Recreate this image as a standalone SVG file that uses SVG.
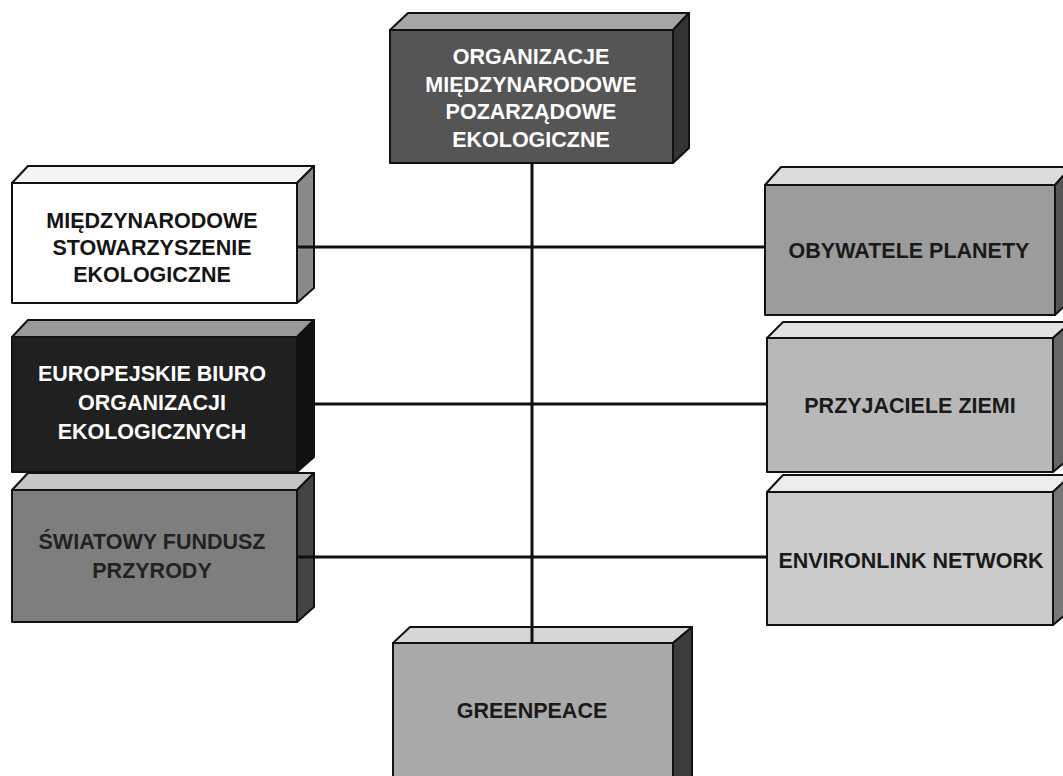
<svg xmlns="http://www.w3.org/2000/svg" width="1063" height="776" viewBox="0 0 1063 776">
<style>
.o{stroke:#111;stroke-width:2;stroke-linejoin:round}
.t{font-family:"Liberation Sans",Arial,sans-serif;font-weight:bold;font-size:21.5px;text-anchor:middle}
.w{fill:#fff}.k{fill:#151515}
.c{stroke:#111;stroke-width:3;fill:none}
</style>
<rect width="1063" height="776" fill="#fff"/>
<g id="top">
<polygon class="o" points="390,30 408,13 689,13 673,30" fill="#a6a6a6"/>
<polygon class="o" points="673,30 689,13 689,148 673,163" fill="#333"/>
<rect class="o" x="390" y="30" width="283" height="133" fill="#555"/>
<text class="t w" x="531" y="64">ORGANIZACJE</text>
<text class="t w" x="531" y="92">MIĘDZYNARODOWE</text>
<text class="t w" x="531" y="119">POZARZĄDOWE</text>
<text class="t w" x="531" y="147">EKOLOGICZNE</text>
</g>
<g id="l1">
<polygon class="o" points="12,183 28,166 314,166 297,183" fill="#f4f4f4"/>
<polygon class="o" points="297,183 314,166 314,288 297,303" fill="#8a8a8a"/>
<rect class="o" x="12" y="183" width="285" height="120" fill="#fff"/>
<text class="t k" x="152" y="228">MIĘDZYNARODOWE</text>
<text class="t k" x="152" y="255">STOWARZYSZENIE</text>
<text class="t k" x="152" y="282">EKOLOGICZNE</text>
</g>
<g id="l2">
<polygon class="o" points="12,337 28,320 314,320 297,337" fill="#9a9a9a"/>
<polygon class="o" points="297,337 314,320 314,457 297,472" fill="#111"/>
<rect class="o" x="12" y="337" width="285" height="135" fill="#202020"/>
<text class="t w" x="152" y="381">EUROPEJSKIE BIURO</text>
<text class="t w" x="152" y="410">ORGANIZACJI</text>
<text class="t w" x="152" y="439">EKOLOGICZNYCH</text>
</g>
<g id="l3">
<polygon class="o" points="12,490 28,473 314,473 297,490" fill="#c6c6c6"/>
<polygon class="o" points="297,490 314,473 314,607 297,622" fill="#444"/>
<rect class="o" x="12" y="490" width="285" height="132" fill="#7e7e7e"/>
<text class="t" x="152" y="549" fill="#222">ŚWIATOWY FUNDUSZ</text>
<text class="t" x="152" y="578" fill="#222">PRZYRODY</text>
</g>
<g id="r1">
<polygon class="o" points="765,185 781,167 1071,167 1055,185" fill="#dcdcdc"/>
<polygon class="o" points="1055,185 1071,167 1071,300 1055,315" fill="#555"/>
<rect class="o" x="765" y="185" width="290" height="130" fill="#9c9c9c"/>
<text class="t" x="909" y="258" fill="#1a1a1a">OBYWATELE PLANETY</text>
</g>
<g id="r2">
<polygon class="o" points="767,338 783,322 1071,322 1053,338" fill="#e2e2e2"/>
<polygon class="o" points="1053,338 1071,322 1071,457 1053,472" fill="#666"/>
<rect class="o" x="767" y="338" width="286" height="134" fill="#b8b8b8"/>
<text class="t" x="910" y="413" fill="#1a1a1a">PRZYJACIELE ZIEMI</text>
</g>
<g id="r3">
<polygon class="o" points="767,492 783,475 1071,475 1053,492" fill="#ececec"/>
<polygon class="o" points="1053,492 1071,475 1071,610 1053,625" fill="#777"/>
<rect class="o" x="767" y="492" width="286" height="133" fill="#cbcbcb"/>
<text class="t" x="911" y="568" fill="#1a1a1a">ENVIRONLINK NETWORK</text>
</g>
<g id="bottom">
<polygon class="o" points="393,643 410,627 692,627 673,643" fill="#d6d6d6"/>
<polygon class="o" points="673,643 692,627 692,780 673,790" fill="#3c3c3c"/>
<rect class="o" x="393" y="643" width="280" height="150" fill="#a9a9a9"/>
<text class="t" x="532" y="718" fill="#1a1a1a">GREENPEACE</text>
</g>
<g id="connectors">
<line class="c" x1="532" y1="163" x2="532" y2="643"/>
<line class="c" x1="297" y1="247" x2="765" y2="247"/>
<line class="c" x1="297" y1="404" x2="767" y2="404"/>
<line class="c" x1="297" y1="557" x2="767" y2="557"/>
</g>
</svg>
